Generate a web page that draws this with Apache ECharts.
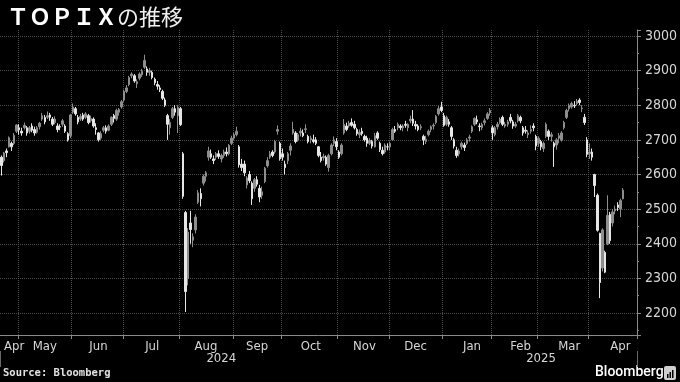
<!DOCTYPE html>
<html>
<head>
<meta charset="utf-8">
<script src="https://cdn.jsdelivr.net/npm/echarts@6/dist/echarts.min.js"></script>
<style>
html,body{margin:0;padding:0;background:#000;}
#chart{width:680px;height:382px;}
</style>
</head>
<body>
<div id="chart"></div>
<script>
// Trading days per month (last 5 April-2025 days are empty axis room)
const tradingDays = [
  ['2024-04', [19,22,23,24,25,26,30]],
  ['2024-05', [1,2,7,8,9,10,13,14,15,16,17,20,21,22,23,24,27,28,29,30,31]],
  ['2024-06', [3,4,5,6,7,10,11,12,13,14,17,18,19,20,21,24,25,26,27,28]],
  ['2024-07', [1,2,3,4,5,8,9,10,11,12,16,17,18,19,22,23,24,25,26,29,30,31]],
  ['2024-08', [1,2,5,6,7,8,9,13,14,15,16,19,20,21,22,23,26,27,28,29,30]],
  ['2024-09', [2,3,4,5,6,9,10,11,12,13,17,18,19,20,24,25,26,27,30]],
  ['2024-10', [1,2,3,4,7,8,9,10,11,15,16,17,18,21,22,23,24,25,28,29,30,31]],
  ['2024-11', [1,5,6,7,8,11,12,13,14,15,18,19,20,21,22,25,26,27,28,29]],
  ['2024-12', [2,3,4,5,6,9,10,11,12,13,16,17,18,19,20,23,24,25,26,27,30]],
  ['2025-01', [6,7,8,9,10,14,15,16,17,20,21,22,23,24,27,28,29,30,31]],
  ['2025-02', [3,4,5,6,7,10,12,13,14,17,18,19,20,21,25,26,27,28]],
  ['2025-03', [3,4,5,6,7,10,11,12,13,14,17,18,19,21,24,25,26,27,28,31]],
  ['2025-04', [1,2,3,4,7,8,9,10,11,14,15,16,17,18,21,22,23,24,25]]
];
// trading-day nudge of each month label from the month's centre
const monthLabelShift = [2, 0, 0, 0, 0, 0, 0, 0, 0, 2, 2, 2, 3];
const monthNames = ['Jan','Feb','Mar','Apr','May','Jun','Jul','Aug','Sep','Oct','Nov','Dec'];
const yearLabels = ['2024','2025'];

// Daily candles: [open, high, low, close]
const candles = [
  // Apr 2024
  [2650,2655,2597,2626],[2640,2665,2635,2662],[2668,2675,2650,2663],[2680,2710,2678,2706],
  [2690,2695,2668,2680],[2690,2720,2685,2713],[2725,2745,2720,2743],
  // May 2024
  [2735,2745,2715,2729],[2725,2735,2712,2720],[2735,2750,2730,2742],[2735,2740,2712,2720],
  [2725,2740,2718,2735],[2740,2748,2722,2728],[2730,2738,2712,2720],[2722,2740,2718,2735],
  [2738,2752,2730,2748],[2760,2778,2755,2770],[2765,2772,2745,2752],[2765,2782,2760,2770],
  [2772,2778,2755,2765],[2760,2766,2740,2745],[2750,2768,2745,2760],[2740,2748,2722,2730],
  [2738,2745,2728,2737],[2745,2760,2738,2755],[2740,2745,2720,2725],[2718,2722,2695,2700],
  [2712,2775,2705,2772],
  // Jun 2024
  [2780,2805,2775,2795],[2790,2795,2770,2775],[2765,2772,2745,2752],[2760,2775,2755,2768],
  [2772,2778,2755,2760],[2765,2780,2760,2775],[2770,2775,2745,2750],[2755,2770,2750,2762],
  [2760,2765,2735,2740],[2735,2748,2715,2730],[2720,2722,2695,2700],[2705,2725,2700,2718],
  [2728,2740,2722,2735],[2735,2742,2718,2725],[2728,2745,2725,2740],[2745,2768,2740,2765],
  [2770,2775,2750,2762],[2760,2790,2755,2785],[2780,2792,2770,2788],[2795,2815,2790,2810],
  // Jul 2024
  [2815,2845,2810,2840],[2840,2858,2835,2850],[2860,2885,2855,2880],[2885,2895,2878,2890],
  [2885,2890,2865,2870],[2862,2875,2850,2868],[2878,2895,2872,2890],[2888,2905,2882,2898],
  [2910,2946,2905,2929],[2905,2912,2885,2895],[2895,2908,2885,2900],[2895,2900,2875,2880],
  [2875,2880,2858,2865],[2860,2870,2845,2855],[2850,2858,2838,2845],[2840,2845,2815,2820],
  [2815,2822,2795,2800],[2770,2775,2700,2745],[2735,2760,2715,2750],[2765,2795,2760,2790],
  [2790,2800,2770,2780],[2770,2800,2720,2794],
  // Aug 2024
  [2790,2795,2740,2744],[2660,2665,2530,2537],[2490,2495,2203,2262],[2300,2445,2280,2434],
  [2460,2495,2400,2441],[2410,2430,2390,2420],[2440,2485,2430,2477],[2520,2555,2515,2547],
  [2545,2560,2508,2530],[2575,2600,2568,2595],[2595,2610,2580,2605],[2650,2680,2640,2668],
  [2660,2672,2645,2650],[2645,2655,2630,2640],[2650,2665,2642,2660],[2660,2670,2645,2652],
  [2645,2660,2635,2655],[2655,2672,2648,2665],[2665,2678,2652,2660],[2660,2688,2655,2684],
  [2690,2712,2685,2705],
  // Sep 2024
  [2705,2720,2700,2715],[2715,2738,2710,2725],[2680,2685,2620,2628],[2630,2645,2610,2620],
  [2630,2640,2595,2605],[2570,2595,2560,2590],[2600,2610,2575,2582],[2575,2580,2512,2530],
  [2560,2590,2550,2585],[2585,2595,2565,2572],[2560,2570,2520,2535],[2540,2565,2530,2550],
  [2580,2622,2575,2618],[2625,2650,2620,2640],[2650,2668,2645,2660],[2665,2670,2650,2655],
  [2665,2700,2660,2696],[2725,2742,2715,2730],[2690,2695,2640,2645],
  // Oct 2024
  [2660,2675,2640,2650],[2630,2640,2600,2620],[2640,2665,2630,2660],[2670,2690,2655,2682],
  [2720,2752,2715,2730],[2720,2725,2690,2695],[2700,2720,2695,2715],[2720,2735,2710,2725],
  [2720,2730,2708,2712],[2730,2745,2720,2732],[2710,2715,2690,2695],[2700,2712,2690,2705],
  [2700,2715,2690,2695],[2700,2708,2685,2690],[2680,2682,2650,2655],[2650,2665,2635,2640],
  [2648,2660,2640,2652],[2650,2655,2625,2630],[2620,2660,2608,2655],[2660,2690,2655,2685],
  [2690,2710,2682,2700],[2695,2705,2670,2680],
  // Nov 2024
  [2665,2670,2645,2650],[2660,2690,2655,2685],[2720,2760,2715,2745],[2740,2750,2725,2730],
  [2740,2755,2735,2748],[2750,2762,2738,2742],[2745,2755,2730,2735],[2730,2735,2712,2718],
  [2715,2730,2705,2722],[2725,2735,2712,2718],[2710,2715,2695,2700],[2705,2712,2680,2690],
  [2690,2705,2685,2698],[2695,2700,2675,2682],[2680,2720,2678,2712],[2720,2725,2700,2705],
  [2690,2695,2665,2672],[2670,2680,2655,2660],[2665,2690,2660,2685],[2680,2690,2670,2680],
  // Dec 2024
  [2680,2695,2670,2690],[2700,2735,2698,2730],[2730,2740,2720,2725],[2735,2750,2728,2745],
  [2740,2745,2728,2735],[2735,2745,2725,2740],[2745,2755,2735,2742],[2735,2748,2725,2745],
  [2755,2770,2748,2760],[2760,2786,2740,2748],[2745,2755,2730,2740],[2740,2745,2725,2730],
  [2735,2745,2728,2738],[2710,2715,2685,2700],[2695,2712,2688,2702],[2715,2730,2710,2725],
  [2730,2742,2722,2738],[2740,2748,2730,2742],[2750,2772,2745,2768],[2775,2798,2770,2790],
  [2795,2810,2780,2785],
  // Jan 2025
  [2770,2778,2738,2742],[2745,2770,2740,2765],[2752,2760,2738,2745],[2735,2740,2700,2710],
  [2700,2705,2675,2682],[2670,2680,2648,2655],[2660,2675,2652,2668],[2680,2695,2672,2690],
  [2685,2692,2668,2678],[2690,2705,2685,2700],[2705,2715,2695,2708],[2725,2742,2720,2738],
  [2745,2765,2740,2762],[2758,2770,2745,2752],[2740,2748,2725,2738],[2735,2750,2728,2745],
  [2750,2762,2742,2755],[2762,2780,2758,2775],[2778,2792,2770,2785],
  // Feb 2025
  [2735,2742,2700,2720],[2715,2740,2710,2735],[2738,2752,2730,2745],[2750,2765,2745,2760],
  [2765,2770,2740,2745],[2740,2752,2735,2745],[2745,2758,2738,2752],[2765,2775,2748,2755],
  [2752,2758,2732,2740],[2740,2752,2735,2745],[2755,2775,2750,2770],[2765,2770,2748,2755],
  [2735,2740,2712,2720],[2728,2740,2718,2725],[2715,2728,2705,2720],[2725,2742,2718,2730],
  [2740,2748,2725,2735],[2710,2715,2670,2682],
  // Mar 2025
  [2690,2710,2680,2705],[2695,2700,2670,2680],[2675,2695,2665,2690],[2710,2750,2705,2745],
  [2725,2730,2700,2710],[2710,2722,2695,2715],[2690,2695,2622,2680],[2685,2705,2672,2700],
  [2705,2720,2690,2712],[2700,2725,2695,2720],[2735,2755,2730,2750],[2765,2790,2760,2785],
  [2790,2805,2782,2800],[2795,2810,2790,2805],[2800,2812,2792,2798],[2805,2818,2800,2812],
  [2815,2820,2800,2808],[2790,2800,2780,2792],[2765,2775,2743,2750],[2700,2708,2650,2658],
  // Apr 2025
  [2660,2690,2645,2665],[2665,2675,2640,2650],[2600,2602,2535,2568],[2540,2545,2435,2439],
  [2430,2432,2243,2288],[2330,2445,2320,2440],[2375,2380,2315,2318],[2400,2540,2396,2482],
  [2485,2492,2400,2409],[2460,2500,2450,2492],[2495,2510,2485,2500],[2512,2520,2495,2505],
  [2500,2530,2477,2525],[2530,2561,2528,2555]
];

// ---- build categories and helper index sets ----
const dates = [];
const monthStart = new Set();
const monthLabelIdx = new Set();
let janIdx = -1;
tradingDays.forEach(([ym, days], mi) => {
  const start = dates.length;
  days.forEach(d => dates.push(ym + '-' + String(d).padStart(2, '0')));
  const end = dates.length - 1;
  if (mi > 0) monthStart.add(start);
  if (ym === '2025-01') janIdx = start;
  monthLabelIdx.add(Math.round((start + end) / 2) + monthLabelShift[mi]);
});
const yearLabelIdx = new Set([Math.ceil((janIdx - 1) / 2), Math.ceil((janIdx + dates.length - 1) / 2)]);

const seriesData = candles.map(([o, h, l, c]) => [o, c, l, h]);

const axisGray = '#8a8a8a';
const gridGray = '#4f4f4f';
const labelColor = '#d6d6d6';
const narrow = '"Liberation Sans Narrow", "DejaVu Sans Condensed", "Roboto", sans-serif';

const chart = echarts.init(document.getElementById('chart'), null, {renderer: 'canvas'});
chart.setOption({
  backgroundColor: '#000',
  animation: false,
  title: {
    text: '{a|ＴＯＰＩＸ}{b|の推移}',
    left: 2, top: 1,
    textStyle: {
      rich: {
        a: {fontSize: 22, fontWeight: 'bold', color: '#ffffff', fontFamily: '"Noto Sans CJK JP"'},
        b: {fontSize: 22, fontWeight: 'normal', color: '#f0f0f0', fontFamily: '"Noto Sans CJK JP"'}
      }
    }
  },
  grid: {left: 0, right: 34, top: 30, bottom: 47, containLabel: false},
  xAxis: [{
    type: 'category',
    data: dates,
    boundaryGap: true,
    axisLine: {show: true, lineStyle: {color: axisGray}},
    axisTick: {show: true, interval: (i) => monthStart.has(i), length: 4, lineStyle: {color: axisGray}},
    axisLabel: {
      interval: (i) => monthLabelIdx.has(i),
      formatter: (v) => monthNames[parseInt(v.slice(5, 7), 10) - 1],
      color: labelColor, fontSize: 13, fontFamily: narrow, margin: 5
    },
    splitLine: {show: true, interval: (i) => monthStart.has(i), lineStyle: {type: 'dotted', color: gridGray}}
  }, {
    type: 'category',
    data: dates,
    boundaryGap: true,
    position: 'bottom',
    offset: 16,
    axisLine: {show: false},
    axisTick: {show: true, interval: (i) => i === janIdx, length: 16, lineStyle: {color: '#6a6a6a'}},
    axisLabel: {
      interval: (i) => yearLabelIdx.has(i),
      formatter: (v) => v.slice(0, 4),
      color: labelColor, fontSize: 13, fontFamily: narrow, margin: 1
    },
    splitLine: {show: false}
  }],
  yAxis: {
    type: 'value',
    position: 'right',
    min: 2136.5,
    max: 3017.3,
    splitNumber: 9,
    axisLine: {show: true, lineStyle: {color: axisGray}},
    axisTick: {show: true, length: 4, lineStyle: {color: axisGray}},
    minorTick: {show: true, splitNumber: 2, length: 2, lineStyle: {color: axisGray}},
    axisLabel: {
      color: labelColor, fontSize: 14, fontFamily: narrow, margin: 8,
      showMinLabel: false, showMaxLabel: false,
      formatter: (v) => (Math.abs(v % 100) < 1e-6 ? String(v) : '')
    },
    splitLine: {show: true, showMinLine: false, showMaxLine: false, lineStyle: {type: 'dotted', color: gridGray}}
  },
  series: [{
    type: 'candlestick',
    xAxisIndex: 0,
    data: seriesData,
    barWidth: 2,
    itemStyle: {
      color: '#8e8e8e',
      color0: '#e6e6e6',
      borderColor: '#8e8e8e',
      borderColor0: '#e6e6e6',
      borderWidth: 1
    }
  }],
  graphic: [
    {type: 'text', left: 3, top: 368, style: {text: 'Source: Bloomberg', fill: '#e0e0e0', font: 'bold 10.5px "DejaVu Sans Mono"'}},
    {type: 'text', left: 595, top: 365, style: {text: 'Bloomberg', fill: '#ffffff', font: '500 14px Roboto'}},
    {type: 'group', left: 664, top: 366, children: [
      {type: 'rect', shape: {x: 0, y: 0, width: 12, height: 14, r: 2}, style: {fill: '#cfcfcf'}},
      {type: 'rect', shape: {x: 3, y: 8, width: 1.5, height: 4}, style: {fill: '#000'}},
      {type: 'rect', shape: {x: 5.5, y: 6, width: 1.5, height: 6}, style: {fill: '#000'}},
      {type: 'rect', shape: {x: 8, y: 4, width: 1.5, height: 8}, style: {fill: '#000'}}
    ]}
  ]
});
</script>
</body>
</html>
